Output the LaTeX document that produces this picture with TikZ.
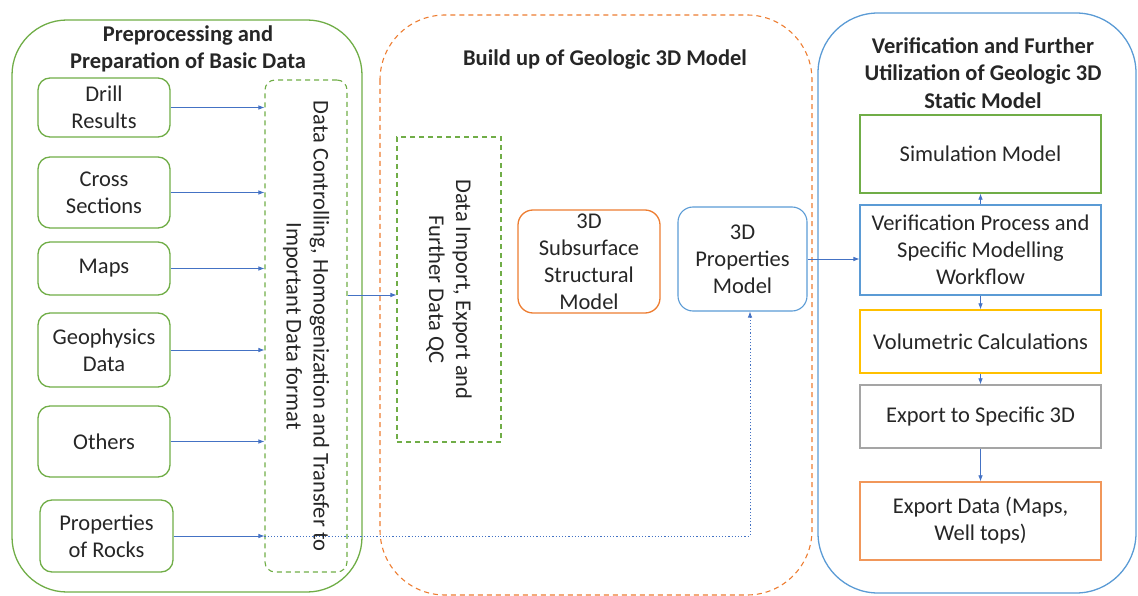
\documentclass[tikz,border=0pt]{standalone}
\usepackage{fontspec}
\setmainfont{Carlito}
\usetikzlibrary{arrows.meta,calc}
\definecolor{cgreen}{HTML}{70AD47}
\definecolor{corange}{HTML}{ED7D31}
\definecolor{cblue}{HTML}{5B9BD5}
\definecolor{carrow}{HTML}{4472C4}
\definecolor{cyellow}{HTML}{FFC000}
\definecolor{cgray}{HTML}{A5A5A5}
\definecolor{ctext}{HTML}{262626}
\tikzset{
  every node/.style={text=ctext, font=\fontsize{22.5}{27}\selectfont, inner sep=0pt},
  container/.style={draw, line width=1.3pt, rounded corners=55pt},
  inbox/.style={draw=cgreen, line width=1.3pt, rounded corners=12pt, align=center},
  dashbox/.style={draw=cgreen, line width=1.1pt, dash pattern=on 5pt off 4pt},
  rightbox/.style={draw, line width=1.3pt, minimum width=241pt, align=center},
  arr/.style={draw=carrow, line width=0.7pt, -{Latex[length=6pt,width=4.5pt]}},
  dotarr/.style={draw=carrow, line width=0.8pt, dash pattern=on 1.2pt off 2pt, -{Latex[length=6pt,width=4.5pt]}},
  title/.style={font=\bfseries\fontsize{22.5}{27.5}\selectfont, align=center}
}
\begin{document}
\begin{tikzpicture}[x=1pt,y=1pt]
\useasboundingbox (0,0) rectangle (1138,-596);
% containers
\draw[container, draw=cgreen] (12,-20) rectangle (362,-592);
\draw[container, draw=corange, line width=1.1pt, dash pattern=on 5pt off 4pt, rounded corners=65pt] (380,-15) rectangle (812,-595);
\draw[container, draw=cblue, rounded corners=60pt] (818,-13) rectangle (1136,-593);
% titles
\node[title] (t1) at (188,-49) {Preprocessing and\\Preparation of Basic Data};
\node[title] (t2) at (605,-60) {Build up of Geologic 3D Model};
\node[title] (t3) at (983,-73) {Verification and Further\\Utilization of Geologic 3D\\Static Model};
% left input boxes
\node[inbox, minimum width=132pt, minimum height=59pt] (drill) at (104,-107.5) {Drill\\Results};
\node[inbox, minimum width=132pt, minimum height=71pt] (cross) at (104,-192.5) {Cross\\Sections};
\node[inbox, minimum width=132pt, minimum height=53pt] (maps) at (104,-268.5) {Maps};
\node[inbox, minimum width=132pt, minimum height=74pt] (geo) at (104,-350) {Geophysics\\Data};
\node[inbox, minimum width=132pt, minimum height=71pt] (oth) at (104,-441.5) {Others};
\node[inbox, minimum width=133pt, minimum height=72pt] (rock) at (106.5,-536) {Properties\\of Rocks};
% data controlling
\node[dashbox, rounded corners=10pt, minimum width=82pt, minimum height=492pt] (dc) at (306,-326) {};
\node[rotate=-90, align=center] (dctext) at (dc.center) {Data Controlling, Homogenization and Transfer to\\Important Data format};
% data import
\node[dashbox, minimum width=104pt, minimum height=305pt] (mi) at (449,-289.5) {};
\node[rotate=-90, align=center] (mitext) at (mi.center) {Data Import, Export and\\Further Data QC};
% models
\node[draw=corange, line width=1.3pt, rounded corners=15pt, minimum width=142pt, minimum height=103pt, align=center] (sm) at (589,-261.5) {3D\\Subsurface\\Structural\\Model};
\node[draw=cblue, line width=1.1pt, rounded corners=15pt, minimum width=129pt, minimum height=104pt, align=center] (pm) at (742.5,-259) {3D\\Properties\\Model};
% right boxes
\node[rightbox, draw=cgreen, minimum height=78pt] (sim) at (980.5,-154) {Simulation Model};
\node[rightbox, draw=cblue, line width=1.1pt, minimum height=90pt] (ver) at (980.5,-250) {Verification Process and\\Specific Modelling\\Workflow};
\node[rightbox, draw=cyellow, minimum height=63pt] (vol) at (980.5,-341.5) {Volumetric Calculations};
\node[rightbox, draw=cgray, minimum height=63pt] (exp) at (980.5,-416.5) {Export to Specific 3D};
\node[rightbox, draw=corange!80, minimum height=78pt] (exd) at (980.5,-521) {Export Data (Maps,\\Well tops)};
% connectors
\foreach \n in {drill,cross,maps,geo,oth,rock}
  \draw[arr] (\n.east) -- (\n.east -| dc.west);
\draw[arr] ([yshift=-5.5pt]dc.east |- mi.west) -- ([yshift=-5.5pt]mi.west);
\draw[dotarr] (rock.east -| dc.west) -| ([xshift=7.5pt]pm.south);
\draw[arr] (pm.east) -- (pm.east -| ver.west);
\draw[arr] (ver.north) -- (sim.south);
\draw[arr] (ver.south) -- (vol.north);
\draw[arr] (vol.south) -- (exp.north);
\draw[arr] (exp.south) -- (exd.north);
\end{tikzpicture}
\end{document}
